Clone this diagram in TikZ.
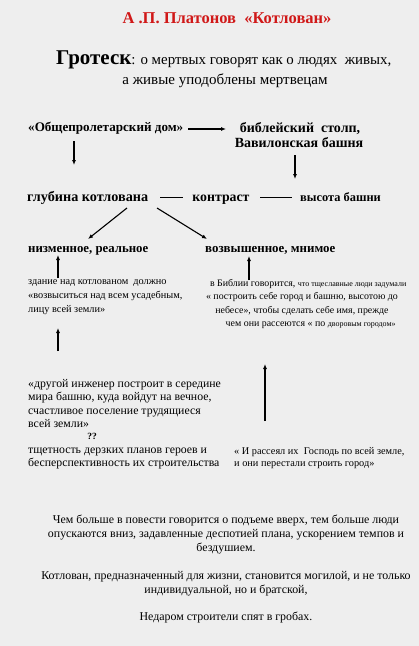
\documentclass[tikz,border=0pt]{standalone}
\usepackage{fontspec}
\setmainfont{Liberation Serif}
\usetikzlibrary{arrows.meta}
\definecolor{bg}{HTML}{EEEEEE}
\definecolor{titlered}{HTML}{D01818}
\tikzset{
  lbl/.style={inner sep=0pt, anchor=base west},
  blk/.style={inner sep=0pt, align=left},
  para/.style={inner sep=0pt, align=center, font=\fontsize{11.9}{14}\selectfont},
  arr/.style={-{Latex[length=5pt,width=4pt]}, line width=1.1pt},
  ln/.style={line width=0.9pt}
}
\begin{document}
\begin{tikzpicture}[x=1pt,y=-1pt]
\fill[bg] (0,0) rectangle (419,646);
\useasboundingbox (0,0) rectangle (419,646);
% title
\node[inner sep=0pt, text=titlered, font=\fontsize{16.5}{18}\selectfont\bfseries] (title) at (227,18) {А .П. Платонов \ «Котлован»};
\node[inner sep=0pt, anchor=base west, font=\fontsize{14.9}{16}\selectfont] (grot) at (56,64) {{\fontsize{21}{22}\selectfont\bfseries Гротеск}: о мертвых говорят как о людях \ живых,};
\node[inner sep=0pt, anchor=base, font=\fontsize{15}{16}\selectfont] (grot2) at (225,84) {а живые уподоблены мертвецам};
% top row
\node[lbl, font=\fontsize{13.1}{15}\selectfont\bfseries] (dom) at (28,131) {«Общепролетарский дом»};
\node[lbl, anchor=base, font=\fontsize{14}{15}\selectfont\bfseries] (stolp) at (300,132) {библейский \ столп,};
\node[lbl, anchor=base, font=\fontsize{14}{15}\selectfont\bfseries] (stolp2) at (299,147) {Вавилонская башня};
\draw[arr] (188,129) -- (226,129);
\coordinate (d1) at (74,141);
\coordinate (d2) at (74,165);
\draw[arr] (d1) -- (d2);
\coordinate (s1) at (295,155);
\coordinate (s2) at (295,179);
\draw[arr] (s1) -- (s2);
% contrast row
\node[lbl, font=\fontsize{14.2}{15}\selectfont\bfseries] (glub) at (27,201.5) {глубина котлована};
\node[lbl, anchor=base, font=\fontsize{13.8}{15}\selectfont\bfseries] (kontr) at (221,201.5) {контраст};
\node[lbl, font=\fontsize{12.4}{14}\selectfont\bfseries] (vys) at (300,201.5) {высота башни};
\draw[ln] (160,197) -- (183,197);
\draw[ln] (260,197) -- (292,197);
% branches
\coordinate (b1) at (127,208);
\coordinate (b2) at (157,208);
\node[lbl, font=\fontsize{12.8}{15}\selectfont\bfseries] (nizm) at (28,252) {низменное, реальное};
\node[lbl, font=\fontsize{12.9}{15}\selectfont\bfseries] (vozv) at (205,252) {возвышенное, мнимое};
\draw[arr] (b1) -- (88,239);
\draw[arr] (b2) -- (207,239);
% middle blocks
\node[blk, anchor=north west, font=\fontsize{10.3}{14}\selectfont] (zd) at (28,279) {здание над котлованом \ должно\\«возвыситься над всем усадебным,\\лицу всей земли»};
\node[blk, align=center, anchor=north, font=\fontsize{9.9}{13.5}\selectfont] (bib) at (302,279) {\ \ \ \ \ в Библии говорится, {\fontsize{8}{9}\selectfont что тщеславные люди задумали}\\« построить себе город и башню, высотою до\\небесе», чтобы сделать себе имя, прежде\\ \ \ \ \ \ \ \ чем они рассеются « по {\fontsize{8}{9}\selectfont дворовым городом»}};
\draw[arr] (58,278) -- (58,255);
\draw[arr] (249,280) -- (249,256);
\draw[arr] (58,351) -- (58,328);
\draw[arr] (265,421) -- (265,364);
% lower blocks
\node[blk, anchor=north west, font=\fontsize{11.8}{13.5}\selectfont] (inzh) at (28,379) {«другой инженер построит в середине\\мира башню, куда войдут на вечное,\\счастливое поселение трудящиеся\\всей земли»};
\node[inner sep=0pt, font=\fontsize{9.5}{11}\selectfont\bfseries] (qq) at (92,436) {??};
\node[blk, anchor=north west, font=\fontsize{11.8}{12.5}\selectfont] (tshch) at (28,448) {тщетность дерзких планов героев и\\бесперспективность их строительства};
\node[blk, anchor=north west, font=\fontsize{10.3}{12.5}\selectfont] (rass) at (234,447) {« И рассеял их \ Господь по всей земле,\\и они перестали строить город»};
% bottom
\node[para] (p1) at (226,535) {Чем больше в повести говорится о подъеме вверх, тем больше люди\\опускаются вниз, задавленные деспотией плана, ускорением темпов и\\бездушием.};
\node[para] (p2) at (226,584) {Котлован, предназначенный для жизни, становится могилой, и не только\\индивидуальной, но и братской,};
\node[para] (p3) at (226,618) {Недаром строители спят в гробах.};
\end{tikzpicture}
\end{document}
